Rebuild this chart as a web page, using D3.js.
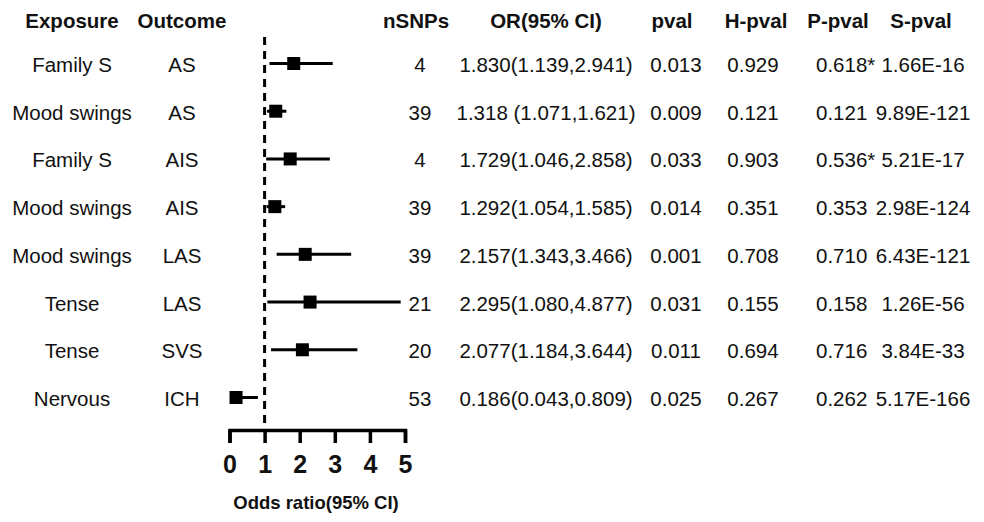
<!DOCTYPE html>
<html lang="en">
<head>
    <meta charset="UTF-8">
    <title>Forest plot</title>
    <script src="https://d3js.org/d3.v7.min.js"></script>
    <style>
        body { margin: 0; background: #fff; }
        svg text { font-family: Arial, "Liberation Sans", sans-serif; fill: #111; }
    </style>
</head>
<body>
    <svg width="984" height="522"></svg>
    <script>
        let exposures = ['Family S', 'Mood swings', 'Family S', 'Mood swings', 'Mood swings', 'Tense', 'Tense', 'Nervous'];
        let outcomes = ['AS', 'AS', 'AIS', 'AIS', 'LAS', 'LAS', 'SVS', 'ICH'];
        let nsnps = [4, 39, 4, 39, 39, 21, 20, 53];
        let or = [1.830, 1.318, 1.729, 1.292, 2.157, 2.295, 2.077, 0.186];
        let lower = [1.139, 1.071, 1.046, 1.054, 1.343, 1.080, 1.184, 0.043];
        let upper = [2.941, 1.621, 2.858, 1.585, 3.466, 4.877, 3.644, 0.809];
        let orText = ['1.830(1.139,2.941)', '1.318 (1.071,1.621)', '1.729(1.046,2.858)', '1.292(1.054,1.585)',
                      '2.157(1.343,3.466)', '2.295(1.080,4.877)', '2.077(1.184,3.644)', '0.186(0.043,0.809)'];
        let pval = ['0.013', '0.009', '0.033', '0.014', '0.001', '0.031', '0.011', '0.025'];
        let hpval = ['0.929', '0.121', '0.903', '0.351', '0.708', '0.155', '0.694', '0.267'];
        let ppval = ['0.618*', '0.121', '0.536*', '0.353', '0.710', '0.158', '0.716', '0.262'];
        let spval = ['1.66E-16', '9.89E-121', '5.21E-17', '2.98E-124', '6.43E-121', '1.26E-56', '3.84E-33', '5.17E-166'];
        let ticks = [0, 1, 2, 3, 4, 5];

        let svg = d3.select('svg');
        let x = d3.scaleLinear().domain([0, 5]).range([229.5, 405]);
        let y = d3.scalePoint().domain(d3.range(exposures.length)).range([63.5, 397.5]);
        let axisY = 430;

        // header
        let headers = [
            { t: 'Exposure', x: 72 }, { t: 'Outcome', x: 182 }, { t: 'nSNPs', x: 416 },
            { t: 'OR(95% CI)', x: 546 }, { t: 'pval', x: 672 }, { t: 'H-pval', x: 756 },
            { t: 'P-pval', x: 838 }, { t: 'S-pval', x: 921 }
        ];
        svg.append('g').selectAll('text').data(headers).join('text')
            .attr('x', d => d.x).attr('y', 28)
            .attr('text-anchor', 'middle')
            .style('font-weight', 'bold').style('font-size', '20.5px')
            .text(d => d.t);

        // table columns
        let cols = [
            { v: exposures, x: 72, a: 'middle' },
            { v: outcomes, x: 182, a: 'middle' },
            { v: nsnps, x: 420, a: 'middle' },
            { v: orText, x: 546, a: 'middle' },
            { v: pval, x: 676, a: 'middle' },
            { v: hpval, x: 753, a: 'middle' },
            { v: ppval, x: 816, a: 'start' },
            { v: spval, x: 923, a: 'middle' }
        ];
        cols.forEach(c => {
            svg.append('g').selectAll('text').data(c.v).join('text')
                .attr('x', c.x).attr('y', (d, i) => y(i) + 8.5)
                .attr('text-anchor', c.a)
                .style('font-size', '20.5px')
                .text(d => d);
        });

        // reference line at OR = 1
        svg.append('line')
            .attr('x1', x(1)).attr('x2', x(1))
            .attr('y1', 37).attr('y2', axisY)
            .attr('stroke', '#000').attr('stroke-width', 3)
            .attr('stroke-dasharray', '8,6');

        // CI lines and boxes
        let idx = d3.range(or.length);
        svg.append('g').selectAll('line').data(idx).join('line')
            .attr('x1', i => x(lower[i])).attr('x2', i => x(upper[i]))
            .attr('y1', i => y(i)).attr('y2', i => y(i))
            .attr('stroke', '#000').attr('stroke-width', 3);
        svg.append('g').selectAll('rect').data(idx).join('rect')
            .attr('x', i => x(or[i]) - 6.5).attr('y', i => y(i) - 6.5)
            .attr('width', 13).attr('height', 13)
            .attr('fill', '#000');

        // axis
        let axis = d3.axisBottom(x).tickValues(ticks).tickFormat(d3.format('d'))
            .tickSize(13).tickSizeOuter(13).tickPadding(12);
        let ax = svg.append('g').attr('transform', `translate(0,${axisY})`).call(axis);
        ax.selectAll('path, line').attr('stroke', '#000').attr('stroke-width', 3.5);
        ax.selectAll('text')
            .style('font-size', '25px').style('font-weight', 'bold')
            .style('font-family', 'Arial, "Liberation Sans", sans-serif').attr('fill', '#111');

        svg.append('text')
            .attr('x', 316).attr('y', 509)
            .attr('text-anchor', 'middle')
            .style('font-weight', 'bold').style('font-size', '18.5px')
            .text('Odds ratio(95% CI)');
    </script>
</body>
</html>
